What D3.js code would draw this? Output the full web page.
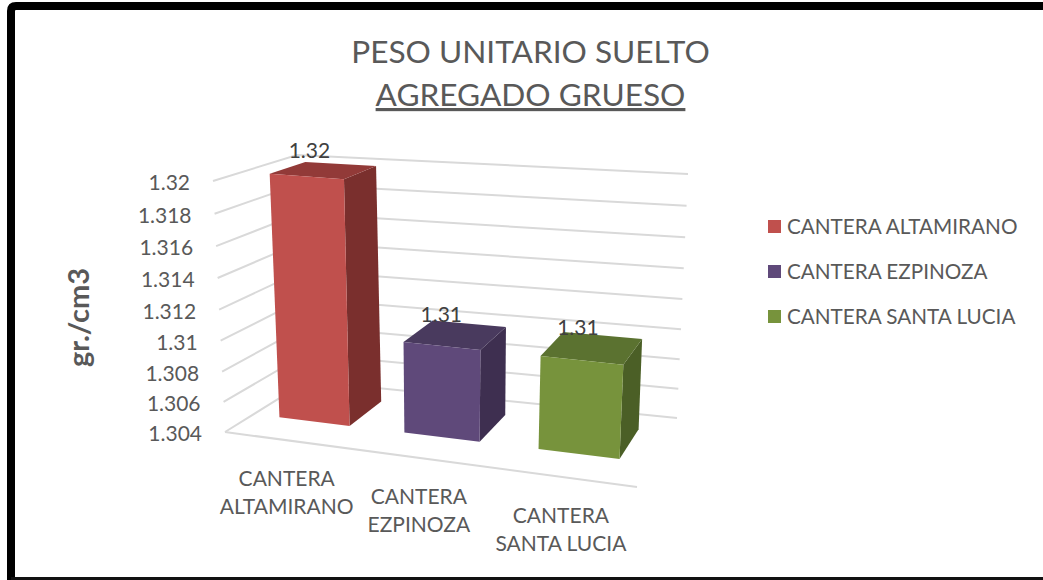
<!DOCTYPE html>
<html><head><meta charset="utf-8">
<script src="https://cdn.jsdelivr.net/npm/d3@7/dist/d3.min.js"></script>
<style>html,body{margin:0;padding:0;background:#fff}svg{display:block}text{font-family:Lato,sans-serif;fill:#595959}</style>
</head><body><svg id="c" width="1043" height="580"></svg>
<script>
const categories = [["CANTERA","ALTAMIRANO"],["CANTERA","EZPINOZA"],["CANTERA","SANTA LUCIA"]];
const seriesNames = ["CANTERA ALTAMIRANO","CANTERA EZPINOZA","CANTERA SANTA LUCIA"];
const values = [1.32,1.31,1.31];
const valueLabels = ["1.32","1.31","1.31"];
const ticks = [1.304,1.306,1.308,1.31,1.312,1.314,1.316,1.318,1.32];
const tickLabels = ["1.304","1.306","1.308","1.31","1.312","1.314","1.316","1.318","1.32"];
const titleLines = ["PESO UNITARIO SUELTO","AGREGADO GRUESO"];
const axisTitle = "gr./cm3";

const frontColors = ["#c0504d","#5f497a","#77933c"];
const topColors   = ["#923a38","#493a5e","#5b7230"];
const sideColors  = ["#7a2f2d","#3e2f50","#4b5f26"];

// the pictured box, as eight screen corners (front/back, left/right, floor/ceiling)
const box = {
  flb:[225,432], frb:[637,487], blb:[307,381], brb:[677,418],
  flt:[213,181], frt:[650,217], blt:[297,155], brt:[688,174]
};
const mix=(a,b,k)=>[a[0]+(b[0]-a[0])*k,a[1]+(b[1]-a[1])*k];
const persp=c=>k=>k/(c+(1-c)*k);
const warpU=persp(1.114), warpT=persp(1.05);
function project(u,v,t){
  const uu=warpU(u), tt=warpT(t);
  const floor=mix(mix(box.flb,box.frb,uu),mix(box.blb,box.brb,uu),v);
  const ceil =mix(mix(box.flt,box.frt,uu),mix(box.blt,box.brt,uu),v);
  return mix(floor,ceil,tt);
}
const yScale=d3.scaleLinear().domain([1.304,1.32]).range([0,1]);
const xScale=d3.scaleBand().domain(d3.range(categories.length)).range([0,1]).paddingInner(0.43).paddingOuter(0.215);
const depth=d3.scaleLinear().domain([0,1]).range([0.35,0.79]);
const line=d3.line();
const closed=d3.line().curve(d3.curveLinearClosed);
const svg=d3.select("#c");

// frame
svg.append("path").attr("d","M1043,6H16Q11,6 11,11V580")
  .attr("fill","none").attr("stroke","#000").attr("stroke-width",8);
svg.append("rect").attr("x",11).attr("y",577).attr("width",1032).attr("height",3).attr("fill","#111");

// title
svg.selectAll("text.title").data(titleLines).join("text").attr("class","title")
  .attr("x",530.5).attr("y",(d,i)=>[63,106][i]).attr("text-anchor","middle")
  .attr("font-size",31.6).attr("text-decoration",(d,i)=>i?"underline":null).text(d=>d);

// grid
const grid=svg.append("g").attr("fill","none").attr("stroke","#d9d9d9").attr("stroke-width",2);
grid.selectAll("path.g").data(ticks).join("path").attr("class","g")
  .attr("d",d=>{const t=yScale(d);return line([project(0,0,t),project(0,1,t),project(1,1,t)]);});
grid.append("path").attr("d",line([project(0,0,0),project(1,0,0)]));

// tick labels
svg.selectAll("text.tick").data(ticks).join("text").attr("class","tick")
  .attr("text-anchor","end").attr("font-size",21)
  .attr("x",d=>project(0,0,yScale(d))[0]-23)
  .attr("y",d=>project(0,0,yScale(d))[1]+9)
  .text((d,i)=>tickLabels[i]);

// axis title
svg.append("text").attr("transform","translate(89,317.5) rotate(-90)").attr("text-anchor","middle")
  .attr("font-size",29).attr("font-weight",700).text(axisTitle);

// bars
const bars=svg.selectAll("g.bar").data(values).join("g").attr("class","bar");
bars.each(function(d,i){
  const g=d3.select(this), u0=xScale(i), u1=u0+xScale.bandwidth(), v0=depth(0), v1=depth(1), t=yScale(d);
  g.append("path").attr("fill",sideColors[i]).attr("d",closed([project(u1,v0,0),project(u1,v1,0),project(u1,v1,t),project(u1,v0,t)]));
  g.append("path").attr("fill",topColors[i]).attr("d",closed([project(u0,v0,t),project(u1,v0,t),project(u1,v1,t),project(u0,v1,t)]));
  g.append("path").attr("fill",frontColors[i]).attr("d",closed([project(u0,v0,0),project(u1,v0,0),project(u1,v0,t),project(u0,v0,t)]));
});

// value labels
svg.selectAll("text.val").data(values).join("text").attr("class","val")
  .attr("text-anchor","middle").attr("font-size",21).style("fill","#404040")
  .attr("x",(d,i)=>project(xScale(i)+xScale.bandwidth()/2,depth(.5),yScale(d))[0]-14)
  .attr("y",(d,i)=>project(xScale(i)+xScale.bandwidth()/2,depth(.5),yScale(d))[1]-12.5)
  .text((d,i)=>valueLabels[i]);

// category labels
categories.forEach((lines,i)=>{
  const p=project(xScale(i)+xScale.bandwidth()/2,0,0);
  svg.selectAll("text.cat"+i).data(lines).join("text").attr("class","cat"+i)
    .attr("text-anchor","middle").attr("font-size",21)
    .attr("x",p[0]-1).attr("y",(d,j)=>p[1]+46+j*28).text(d=>d);
});

// legend
const leg=svg.selectAll("g.leg").data(seriesNames).join("g").attr("class","leg")
  .attr("transform",(d,i)=>`translate(768,${220+i*45})`);
leg.append("rect").attr("width",13).attr("height",13).attr("fill",(d,i)=>frontColors[i]);
leg.append("text").attr("x",19).attr("y",14).attr("font-size",20.7).text(d=>d);
</script></body></html>
